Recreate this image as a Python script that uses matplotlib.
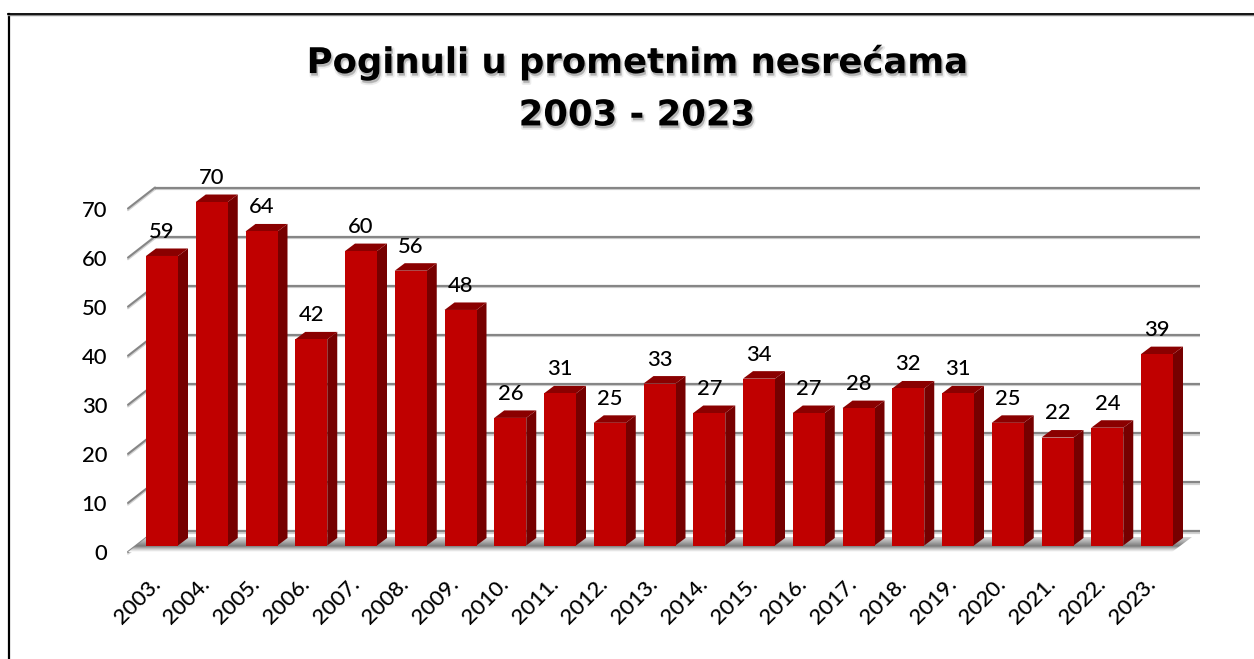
import numpy as np
import matplotlib
matplotlib.use("Agg")
import matplotlib.pyplot as plt
import matplotlib.patheffects as pe
from matplotlib.patches import Polygon
from matplotlib.transforms import Affine2D

years = ["2003.", "2004.", "2005.", "2006.", "2007.", "2008.", "2009.", "2010.", "2011.", "2012.", "2013.",
         "2014.", "2015.", "2016.", "2017.", "2018.", "2019.", "2020.", "2021.", "2022.", "2023."]
deaths = [59, 70, 64, 42, 60, 56, 48, 26, 31, 25, 33, 27, 34, 27, 28, 32, 31, 25, 22, 24, 39]
value_ticks = [0, 10, 20, 30, 40, 50, 60, 70]
title_text = "Poginuli u prometnim nesrećama\n2003 - 2023"

W, H = 1254, 659
FONT = "Lato"
LABEL_SIZE = 15.8
LABEL_WEIGHT = "medium"
fig = plt.figure(figsize=(W / 100, H / 100), dpi=100, facecolor="white")

# plot frame, in pixels from the top left of the picture
L, R, B, T = 128, 1200, 552, 170
ax = fig.add_axes([L / W, 1 - B / H, (R - L) / W, (B - T) / H])
PX_X, PX_Y = 49.75, 4.907
ax.set_xlim((L - 162) / PX_X, (R - 162) / PX_X)
ax.set_ylim(0, (B - T) / PX_Y)
ax.patch.set_alpha(0)
for s in ax.spines.values():
    s.set_visible(False)

px = Affine2D().scale(1, -1).translate(0, H)  # picture pixels
grid_trans = ax.transData + Affine2D().translate(0, 21)
bar_trans = ax.transData + Affine2D().translate(0, 6.5)

# walls
GRID = "#868686"
shadow = [pe.SimpleLineShadow(offset=(0, -1.2), shadow_color="#808080", alpha=0.35), pe.Normal()]
xl, xr = ax.get_xlim()
dx_back = 27 / PX_X
ax.hlines(value_ticks, xl + dx_back, xr, colors=GRID, lw=1.6, transform=grid_trans,
          clip_on=False, path_effects=shadow, zorder=1)
for v in value_ticks:
    ax.plot([xl, xl + dx_back], [v, v + 21 / PX_Y], color=GRID, lw=1.5, clip_on=False,
            path_effects=shadow, zorder=1, solid_capstyle="round")

# floor
floor = Polygon([(L, B), (147, 537), (1192, 537), (1172, B)], closed=True, fc="none", ec="none")
floor.set_transform(px)
fig.add_artist(floor)
grad = np.interp(np.linspace(537, 552, 60), [537, 541, 546, 549, 552], [0.84, 0.70, 0.48, 0.78, 1.0])[:, None]
im = ax.imshow(grad, cmap="gray", vmin=0, vmax=1, aspect="auto", zorder=2,
               extent=(xl, xr, 0, 15 / PX_Y), interpolation="bilinear", origin="upper")
im.set_clip_path(floor)

# bars
x = np.arange(len(deaths))
w = 32 / PX_X
ddx, ddy = 10 / PX_X, 7.5 / PX_Y
ax.bar(x, deaths, width=w, color="#C00000", transform=bar_trans, zorder=4, clip_on=False)
for xi, v in zip(x, deaths):
    x1 = xi + w / 2
    x0 = xi - w / 2
    ax.add_patch(Polygon([(x1, 0), (x1 + ddx, ddy), (x1 + ddx, v + ddy), (x1, v)], fc="#760000", ec="none",
                         transform=bar_trans, zorder=3, clip_on=False))
    ax.add_patch(Polygon([(x0, v), (x0 + ddx, v + ddy), (x1 + ddx, v + ddy), (x1, v)], fc="#8A0000", ec="none",
                         transform=bar_trans, zorder=3, clip_on=False))
    ax.annotate(str(v), (xi, v), xycoords=bar_trans, xytext=(0, 13), textcoords="offset points",
                ha="center", va="baseline", fontsize=LABEL_SIZE, family=FONT, weight=LABEL_WEIGHT,
                color="black", zorder=6, annotation_clip=False)

# axes labels
ax.set_yticks(value_ticks)
ax.set_yticklabels([str(v) for v in value_ticks], fontsize=LABEL_SIZE, family=FONT, weight=LABEL_WEIGHT, color="black")
ax.set_xticks(x)
ax.set_xticklabels(years, fontsize=LABEL_SIZE, family=FONT, weight=LABEL_WEIGHT, color="black", rotation=45, ha="right",
                   rotation_mode="anchor")
ax.tick_params(axis="both", length=0)
ax.tick_params(axis="y", pad=15)
ax.tick_params(axis="x", pad=16)
for lab in ax.get_xticklabels():
    lab.set_transform(lab.get_transform() + Affine2D().translate(-12, 0))
ax.set_xlim(xl, xr)
ax.set_ylim(0, (B - T) / PX_Y)

# title
fig.text(637 / W, 1 - 88.5 / H, title_text, ha="center", va="center", ma="center", fontsize=25.5,
         family="DejaVu Sans", weight="bold", color="black", linespacing=1.68,
         path_effects=[pe.Stroke(linewidth=2.5, foreground="#999999", alpha=0.18, offset=(1, -2)),
                       pe.SimplePatchShadow(offset=(1, -1.5), shadow_rgbFace="#777777", alpha=0.25), pe.Normal()])

# picture frame
fig.add_artist(plt.Line2D([8.5 / W, 8.5 / W], [0, 1 - 13.5 / H], color="black", lw=1.6))
fig.add_artist(plt.Line2D([8 / W, 1], [1 - 15 / H, 1 - 15 / H], color="#888888", lw=1))
fig.add_artist(plt.Line2D([8 / W, 1], [1 - 13.5 / H, 1 - 13.5 / H], color="black", lw=1.3))

fig.savefig("out.png", dpi=100, facecolor="white")
